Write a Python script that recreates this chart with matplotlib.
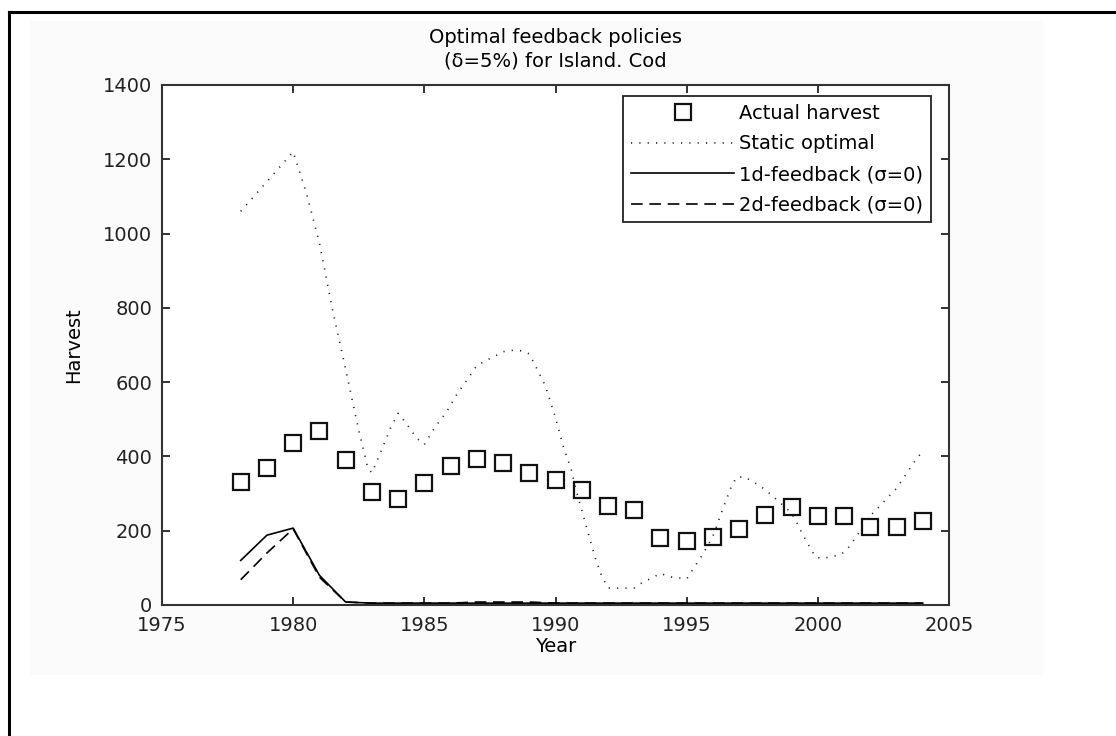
import matplotlib
matplotlib.use("Agg")
import matplotlib.pyplot as plt
from matplotlib.lines import Line2D
from matplotlib.patches import Rectangle

plt.rcParams['font.family'] = ['DejaVu Sans']

# Actual harvest per year
years = list(range(1978, 2005))
actual = [330, 368, 436, 469, 390, 303, 285, 328, 373, 393, 381, 356, 336,
          310, 267, 256, 180, 171, 184, 205, 243, 265, 239, 239, 210, 210, 226]

# Static optimal policy (read at sub-year resolution)
static_t = [1978, 1979, 1980, 1980.5, 1981, 1981.5, 1982, 1982.5, 1982.85, 1983,
            1983.3, 1983.7, 1984, 1984.3, 1984.7, 1985, 1985.4, 1985.85, 1986.2,
            1986.6, 1987, 1987.4, 1987.75, 1988, 1988.4, 1988.75, 1989, 1989.3,
            1989.6, 1990, 1990.3, 1990.6, 1990.8, 1991, 1991.2, 1991.5, 1991.75,
            1992, 1992.5, 1993, 1993.3, 1993.65, 1994, 1994.35, 1995, 1995.2,
            1995.6, 1996, 1996.4, 1996.7, 1996.9, 1997.2, 1997.5, 1997.85, 1998.2,
            1998.55, 1998.9, 1999.1, 1999.4, 1999.7, 1999.9, 2000.15, 2000.5,
            2000.85, 2001.1, 2001.5, 2001.85, 2002.2, 2002.7, 2003, 2003.4,
            2003.8, 2004]
static_h = [1060, 1140, 1220, 1110, 975, 795, 635, 470, 368, 356,
            405, 475, 516, 490, 450, 432, 478, 520, 563,
            603, 645, 660, 672, 682, 686, 684, 676, 635,
            592, 505, 426, 365, 305, 256, 205, 130, 80,
            46, 45, 46, 60, 72, 85, 76, 70, 92,
            135, 185, 263, 318, 344, 345, 333, 318, 298,
            276, 254, 236, 193, 155, 130, 125, 130,
            135, 148, 187, 231, 254, 292, 314, 356,
            398, 412]

# Feedback policies with sigma = 0
fb1 = [120, 188, 207, 80, 8] + [5] * 22
fb2 = [68, 140, 205, 75, 8, 5, 5, 5, 5, 8, 8, 8] + [5] * 15

fig = plt.figure(figsize=(11.16, 7.36), dpi=100)
fig.patch.set_facecolor('white')

# faint panel and window frame
fig.add_artist(Rectangle((30 / 1116, 1 - 675 / 736), 1013 / 1116, 654 / 736,
                         transform=fig.transFigure, facecolor='#fbfbfb',
                         edgecolor='none', zorder=-5))
fig.add_artist(Line2D([9 / 1116, 1], [1 - 12 / 736, 1 - 12 / 736],
                      transform=fig.transFigure, color='black', lw=2.2))
fig.add_artist(Line2D([9 / 1116, 9 / 1116], [0, 1 - 12 / 736],
                      transform=fig.transFigure, color='black', lw=2.2))

ax = fig.add_axes([162 / 1116, 1 - 605 / 736, 787 / 1116, 520 / 736])
ax.set_facecolor('white')

ax.plot(years, actual, linestyle='none', marker='s', markersize=11.5,
        markerfacecolor='none', markeredgecolor='#111111', markeredgewidth=1.6,
        label='Actual harvest')
ax.plot(static_t, static_h, color='#222222', lw=1.2,
        linestyle=(0, (0.7, 4.3)), label='Static optimal')
ax.plot(years, fb1, color='black', lw=1.2, label='1d-feedback (\u03c3=0)')
ax.plot(years, fb2, color='black', lw=1.2, linestyle=(0, (7, 4)),
        label='2d-feedback (\u03c3=0)')

ax.set_xlim(1975, 2005)
ax.set_ylim(0, 1400)
ax.set_xticks(range(1975, 2006, 5))
ax.set_yticks(range(0, 1401, 200))
ax.tick_params(direction='in', length=5.5, width=1.3, top=True, right=True,
               labelsize=14, colors='#222222')
ax.tick_params(axis='x', pad=8)
ax.tick_params(axis='y', pad=7)
for s in ax.spines.values():
    s.set_linewidth(1.5)
    s.set_color('#333333')

ax.set_xlabel('Year', fontsize=14, labelpad=1)
ax.set_ylabel('Harvest', fontsize=14, labelpad=14)
ax.set_title('Optimal feedback policies\n(\u03b4=5%) for Island. Cod',
             fontsize=14, pad=13, linespacing=1.3)

leg = ax.legend(loc='upper right', bbox_to_anchor=(0.977, 0.979),
                borderaxespad=0, fontsize=14, numpoints=1, handlelength=5.3,
                handletextpad=0.25, labelspacing=0.6, fancybox=False,
                framealpha=1, edgecolor='#222222', borderpad=0.4)
leg.get_frame().set_linewidth(1.3)

fig.savefig('out.png', dpi=100)
